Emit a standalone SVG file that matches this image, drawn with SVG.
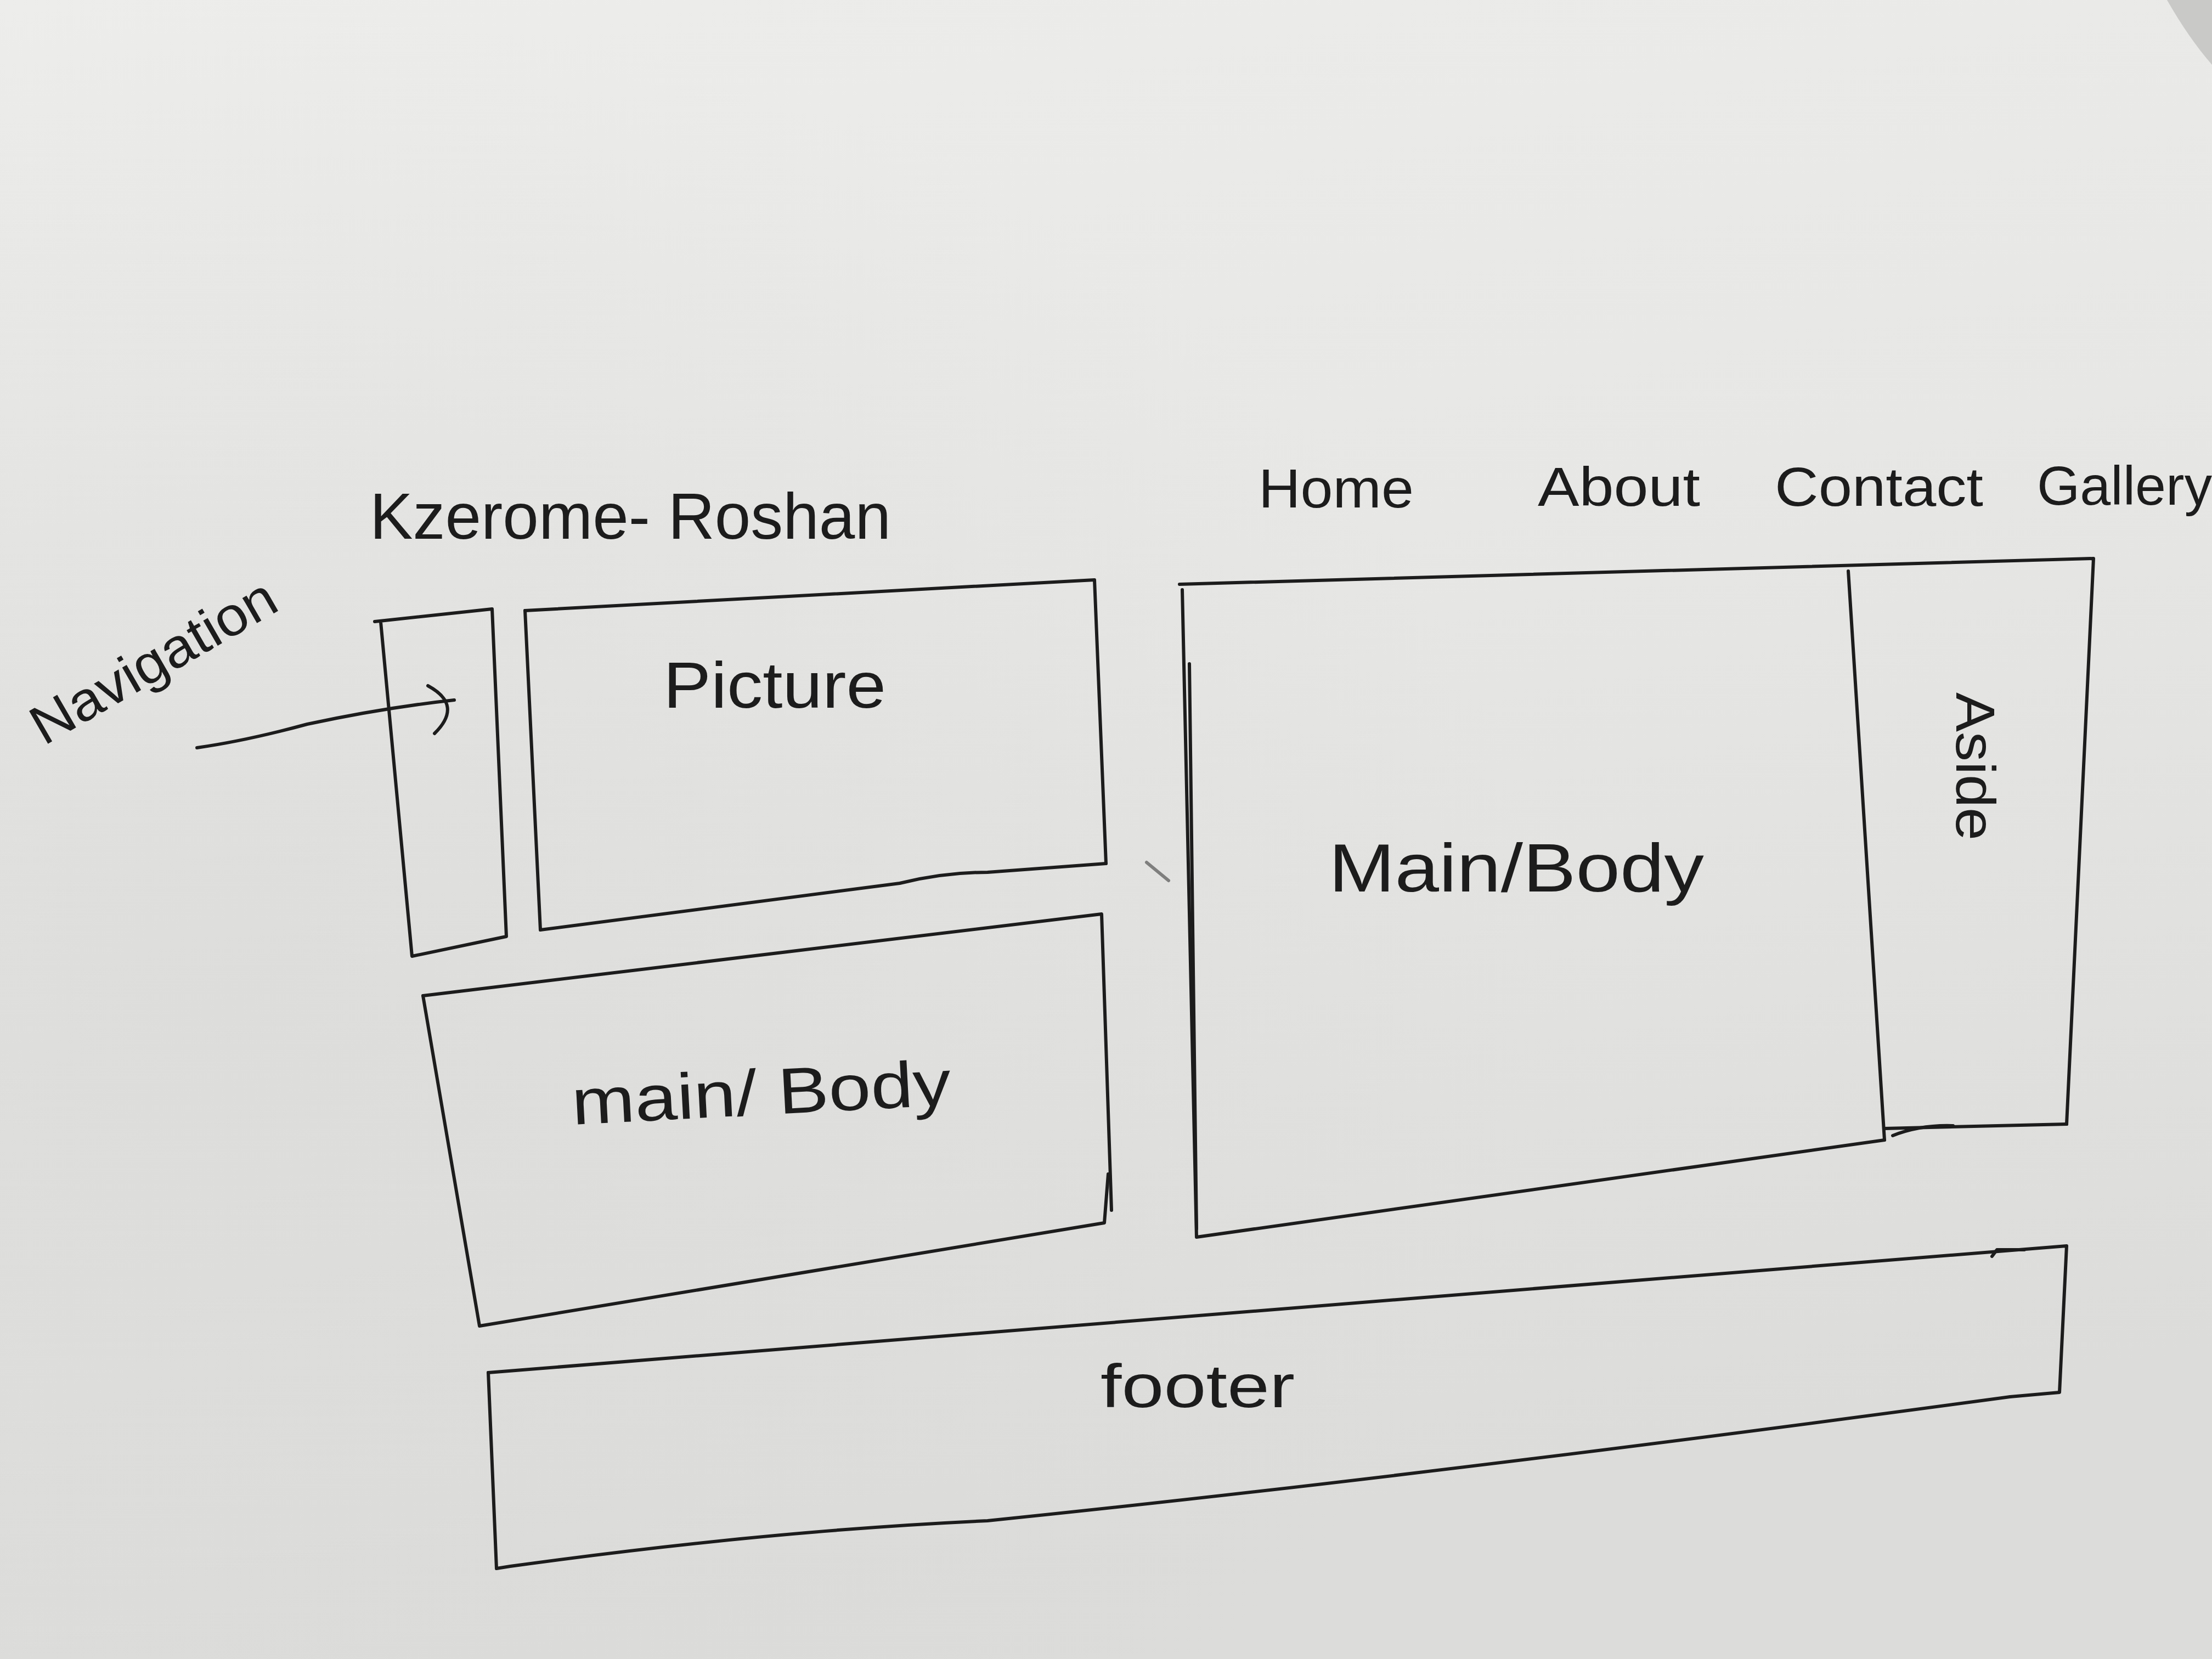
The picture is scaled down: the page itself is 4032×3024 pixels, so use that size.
<svg xmlns="http://www.w3.org/2000/svg" width="4032" height="3024" viewBox="0 0 4032 3024">
  <defs>
    <linearGradient id="paper" x1="0" y1="0" x2="0.25" y2="1">
      <stop offset="0" stop-color="#ededeb"/>
      <stop offset="0.45" stop-color="#e7e7e5"/>
      <stop offset="1" stop-color="#dcdcda"/>
    </linearGradient>
    <radialGradient id="shade" cx="0.1" cy="0.6" r="0.6">
      <stop offset="0" stop-color="#d6d6d4" stop-opacity="0.5"/>
      <stop offset="1" stop-color="#d6d6d4" stop-opacity="0"/>
    </radialGradient>
    <style>
      .ink { fill: none; stroke: #1c1c1c; stroke-width: 6; stroke-linecap: round; stroke-linejoin: round; }
      .hand { font-family: "Liberation Sans", "DejaVu Sans", sans-serif; fill: #1c1c1c; font-weight: normal; }
    </style>
  </defs>

  <!-- paper sheet -->
  <rect width="4032" height="3024" fill="url(#paper)"/>
  <rect width="4032" height="3024" fill="url(#shade)"/>
  <path d="M3950,0 Q3990,70 4032,118 L4032,0 Z" fill="#c9c9c7"/>

  <!-- page heading and menu -->
  <g id="title">
    <text class="hand" x="674" y="982" font-size="118" textLength="950" lengthAdjust="spacingAndGlyphs">Kzerome- Roshan</text>
  </g>
  <g id="menu">
    <text class="hand" x="2294" y="925" font-size="100" textLength="283" lengthAdjust="spacingAndGlyphs">Home</text>
    <text class="hand" x="2803" y="922" font-size="100" textLength="296" lengthAdjust="spacingAndGlyphs">About</text>
    <text class="hand" x="3235" y="922" font-size="100" textLength="380" lengthAdjust="spacingAndGlyphs">Contact</text>
    <text class="hand" x="3713" y="920" font-size="100" textLength="319" lengthAdjust="spacingAndGlyphs">Gallery</text>
  </g>

  <!-- side navigation strip -->
  <g id="navigation">
    <path class="ink" d="M683,1133 L897,1110 L923,1707 L751,1743 L694,1134"/>
  </g>
  <g id="navigation-label">
    <text class="hand" x="0" y="0" font-size="100" textLength="500" lengthAdjust="spacingAndGlyphs" transform="translate(80,1360) rotate(-30)">Navigation</text>
  </g>

  <!-- picture block -->
  <g id="picture">
    <path class="ink" d="M957,1113 L1995,1057 L2016,1574"/>
    <path class="ink" d="M957,1113 L985,1695 L1640,1610 Q1720,1590 1800,1590 L2016,1574"/>
    <text class="hand" x="1209" y="1290" font-size="118" textLength="406" lengthAdjust="spacingAndGlyphs">Picture</text>
  </g>

  <!-- main content, left column -->
  <g id="main-left">
    <path class="ink" d="M771,1815 L2008,1666 L2026,2206"/>
    <path class="ink" d="M771,1815 L874,2417 L2013,2229 L2020,2140"/>
    <text class="hand" x="0" y="0" font-size="118" textLength="692" lengthAdjust="spacingAndGlyphs" transform="translate(1044,2050) rotate(-3)">main/ Body</text>
  </g>

  <!-- main content, right column -->
  <g id="main-right">
    <path class="ink" d="M2150,1065 L3816,1018 L3767,2049"/>
    <path class="ink" d="M2155,1075 L2181,2255 L3435,2078"/>
    <path class="ink" d="M2168,1210 L2181,2240"/>
    <text class="hand" x="2422" y="1625" font-size="125" textLength="684" lengthAdjust="spacingAndGlyphs">Main/Body</text>
  </g>

  <!-- aside column -->
  <g id="aside">
    <path class="ink" d="M3369,1041 L3435,2078"/>
    <path class="ink" d="M3435,2057 L3767,2049"/>
    <path class="ink" d="M3450,2070 Q3500,2050 3560,2052"/>
    <text class="hand" x="0" y="0" font-size="100" textLength="270" lengthAdjust="spacingAndGlyphs" transform="translate(3566,1262) rotate(90)">Aside</text>
  </g>

  <!-- footer bar -->
  <g id="footer">
    <path class="ink" d="M890,2502 L3767,2271 L3754,2538 L3664,2546"/>
    <path class="ink" d="M3631,2290 L3640,2278 L3690,2278"/>
    <path class="ink" d="M890,2502 L905,2859 L930,2855 Q1400,2790 1800,2772 Q2600,2690 3664,2546"/>
    <text class="hand" x="2006" y="2565" font-size="112" textLength="354" lengthAdjust="spacingAndGlyphs">footer</text>
  </g>

  <!-- pointer from the label to the strip -->
  <g id="connectors">
    <path class="ink" d="M359,1363 Q450,1350 560,1320 Q700,1290 828,1276"/>
    <path class="ink" d="M780,1250 Q845,1285 792,1337"/>
    <path class="ink" d="M2090,1572 L2130,1605" stroke-width="3" opacity="0.5"/>
  </g>
</svg>
